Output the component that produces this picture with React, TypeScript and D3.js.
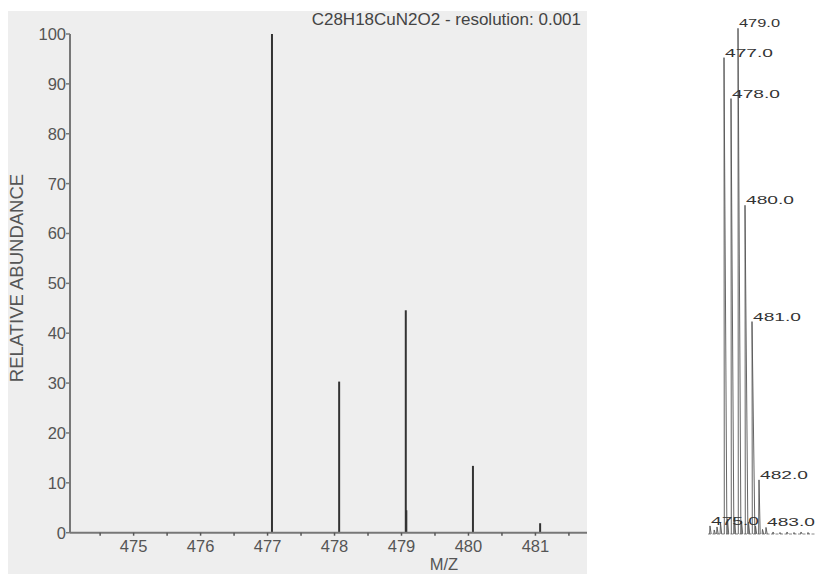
import React from "react";
import * as d3 from "d3";

// Theoretical isotope pattern (left chart)
const peakMz = [477.066, 478.069, 479.064, 479.072, 480.067, 481.07];
const peakAbundance = [100, 30.3, 44.6, 4.5, 13.4, 1.9];
const xTickValues = [474.5, 475, 475.5, 476, 476.5, 477, 477.5, 478, 478.5, 479, 479.5, 480, 480.5, 481, 481.5];
const xLabelValues = [475, 476, 477, 478, 479, 480, 481];
const yTickValues = [0, 10, 20, 30, 40, 50, 60, 70, 80, 90, 100];
const titleText = "C28H18CuN2O2 - resolution: 0.001";
const xAxisTitle = "M/Z";
const yAxisTitle = "RELATIVE ABUNDANCE";

// Measured spectrum (right chart)
const refMz = [475, 475.6, 476, 476.5, 477, 477.5, 478, 478.5, 479, 479.5, 480, 480.5, 481, 481.5, 482, 482.5, 483, 484, 485, 486, 487, 488, 489];
const refIntensity = [1.6, 0.8, 1.4, 2.2, 94.2, 3.0, 86.1, 3.2, 100, 2.6, 65, 2.4, 42, 1.6, 10.7, 0.9, 1.3, 0.4, 0.3, 0.4, 0.3, 0.4, 0.3];
const refLabelMz = [475, 477, 478, 479, 480, 481, 482, 483];
const refLabels = ["475.0", "477.0", "478.0", "479.0", "480.0", "481.0", "482.0", "483.0"];

const W = 819;
const H = 574;
const font = "'Liberation Sans', Arial, sans-serif";

export default function App() {
  const x = d3.scaleLinear().domain([474.05, 481.77]).range([70, 587]);
  const y = d3.scaleLinear().domain([0, 100]).range([532.7, 34]);

  const rx = d3.scaleLinear().domain([477, 482]).range([724, 759]);
  const ry = d3.scaleLinear().domain([0, 100]).range([534, 28.3]);
  const refBase = ry(0);

  const peakPath = (m: number, v: number) => {
    const xt = rx(m);
    const yt = ry(v);
    const lean = v > 20 ? 1.6 : 0.4;
    const hw = v > 20 ? 1.3 : 0.8;
    return `M${xt - hw + lean},${refBase} L${xt},${yt} L${xt + hw + lean},${refBase}`;
  };

  return (
    <svg width={W} height={H} style={{ position: "absolute", left: 0, top: 0, background: "#fff" }}>
      {/* left chart panel */}
      <rect x={8} y={11} width={579} height={563} fill="#eeeeee" />
      <text x={581} y={25} textAnchor="end" fontFamily={font} fontSize={17} fill="#444">
        {titleText}
      </text>

      {/* peaks */}
      {peakMz.map((m, i) => (
        <line key={i} x1={x(m)} x2={x(m)} y1={y(0)} y2={y(peakAbundance[i])} stroke="#333" strokeWidth={2} />
      ))}

      {/* y axis */}
      <line x1={70} x2={70} y1={y(100)} y2={y(0)} stroke="#777" strokeWidth={2} />
      {yTickValues.map((v) => (
        <g key={v}>
          <line x1={66} x2={70} y1={y(v)} y2={y(v)} stroke="#777" strokeWidth={1.5} />
          <text x={66} y={y(v)} dy="0.36em" textAnchor="end" fontFamily={font} fontSize={16.5} fill="#555">
            {v}
          </text>
        </g>
      ))}

      {/* x axis */}
      <line x1={70} x2={587} y1={y(0)} y2={y(0)} stroke="#777" strokeWidth={2} />
      {xTickValues.map((v) => (
        <line key={v} x1={x(v)} x2={x(v)} y1={y(0)} y2={y(0) + 3} stroke="#555" strokeWidth={1.5} />
      ))}
      {xLabelValues.map((v) => (
        <text key={v} x={x(v)} y={551.7} textAnchor="middle" fontFamily={font} fontSize={16.5} fill="#555">
          {v}
        </text>
      ))}
      <text x={444} y={570} textAnchor="middle" fontFamily={font} fontSize={16.5} fill="#555">
        {xAxisTitle}
      </text>
      <text
        transform={`translate(23,${278}) rotate(-90)`}
        textAnchor="middle"
        fontFamily={font}
        fontSize={18.5}
        fill="#555"
      >
        {yAxisTitle}
      </text>

      {/* right measured spectrum */}
      <line x1={708} x2={815} y1={refBase} y2={refBase} stroke="#888" strokeWidth={1} strokeDasharray="3,1.5" />
      {refMz.map((m, i) => (
        <path key={i} d={peakPath(m, refIntensity[i])} fill="none" stroke="#555" strokeWidth={0.9} />
      ))}
      {refLabelMz.map((m, i) => {
        const idx = refMz.indexOf(m);
        const v = refIntensity[idx];
        return (
          <text
            key={m}
            x={rx(m) + 1}
            y={ry(v) - 1}
            fontFamily={font}
            fontSize={11}
            textLength={m === 479 ? 41 : 48}
            lengthAdjust="spacingAndGlyphs"
            fill="#333"
          >
            {refLabels[i]}
          </text>
        );
      })}
    </svg>
  );
}
